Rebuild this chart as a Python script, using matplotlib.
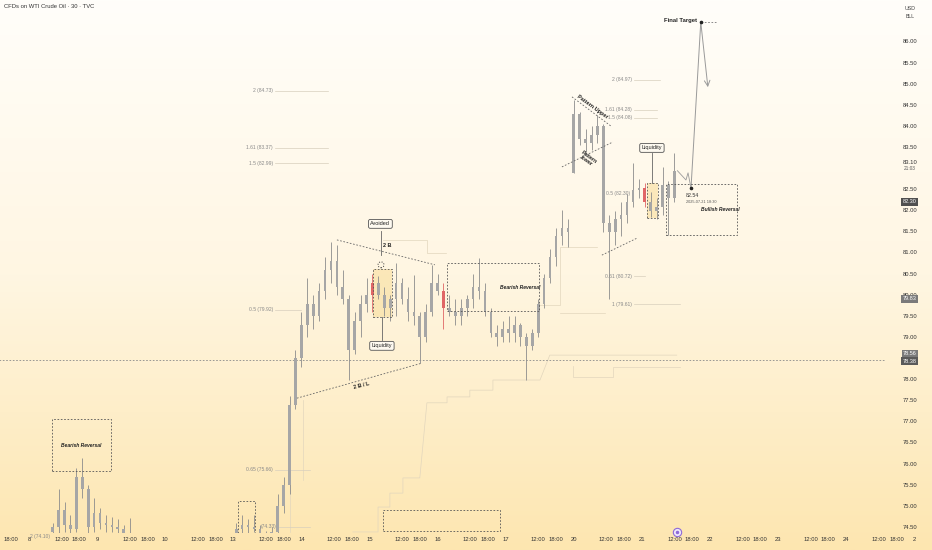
import numpy as np
import matplotlib.pyplot as plt
from matplotlib.colors import LinearSegmentedColormap
from matplotlib.patches import Rectangle, Ellipse

plt.rcParams['font.family'] = ['Liberation Sans', 'DejaVu Sans']

# ---- data (hours counted in 23h trading sessions from the Jul 8 session open) ----
bar_hours = np.r_[8:36:2, 70:220:2]

opens = [74.40, 74.50, 74.90, 74.55, 74.45, 75.70, 75.40, 74.50, 74.85, 74.60,
         74.55, 74.50, 74.45, 74.35,
         74.30, 74.45, 74.55, 74.50, 74.45, 74.35, 74.30, 74.40, 75.00, 75.50,
         77.40, 78.50, 79.30, 79.80, 79.50, 80.10, 80.60, 80.80, 80.20, 79.90,
         78.70, 79.40, 79.80, 80.00, 80.30, 80.00, 79.70, 79.90, 80.30, 79.90,
         79.60, 79.50, 79.00, 79.60, 80.30, 80.10, 79.70, 79.60, 79.50, 79.70,
         79.90, 80.20, 80.10, 79.60, 79.10, 79.00, 79.20, 79.10, 79.30, 79.00,
         78.80, 79.10, 79.80, 80.40, 80.90, 81.40, 81.60, 82.90, 84.30, 83.70,
         83.60, 83.80, 84.00, 81.70, 81.50, 81.80, 81.90, 82.20, 82.50, 82.55,
         82.20, 82.00, 82.10, 82.60, 82.30]
highs = [74.60, 75.40, 75.10, 74.80, 75.90, 76.14, 75.50, 75.20, 74.95, 74.80,
         74.75, 74.70, 74.55, 74.72,
         74.60, 74.80, 74.70, 74.80, 74.55, 74.42, 74.50, 75.30, 75.70, 77.60,
         78.70, 79.60, 80.40, 80.00, 80.30, 80.90, 81.25, 81.20, 80.60, 80.00,
         79.60, 80.00, 80.40, 80.50, 80.45, 80.20, 80.00, 80.76, 80.40, 80.20,
         80.48, 79.60, 79.80, 80.72, 80.50, 80.30, 80.00, 79.90, 79.90, 80.00,
         80.50, 80.88, 80.30, 79.70, 79.30, 79.40, 79.50, 79.50, 79.35, 79.10,
         79.20, 79.90, 80.50, 81.10, 81.60, 82.02, 81.80, 84.63, 84.35, 83.95,
         84.00, 84.27, 84.05, 81.90, 82.00, 82.20, 82.40, 83.13, 82.75, 82.66,
         82.45, 82.30, 83.04, 82.70, 83.37]
lows = [74.30, 74.35, 74.40, 74.35, 74.40, 75.20, 74.35, 74.40, 74.45, 74.40,
        74.40, 74.35, 74.30, 74.20,
        74.20, 74.35, 74.35, 74.40, 74.30, 74.25, 74.25, 74.35, 74.85, 75.30,
        77.30, 78.30, 79.00, 79.20, 79.40, 79.90, 80.30, 80.00, 79.80, 78.00,
        78.60, 79.00, 79.60, 79.60, 79.90, 79.50, 79.40, 79.50, 79.80, 79.40,
        79.30, 78.40, 78.90, 79.50, 80.00, 79.20, 79.50, 79.30, 79.30, 79.50,
        79.70, 79.90, 79.50, 79.00, 78.80, 78.90, 78.90, 78.90, 78.80, 77.99,
        78.70, 79.00, 79.70, 80.30, 80.70, 81.20, 81.14, 82.90, 83.55, 83.40,
        83.45, 83.60, 81.50, 79.90, 81.20, 81.40, 81.70, 82.10, 82.30, 82.10,
        81.85, 81.80, 81.90, 81.43, 82.20]
closes = [74.50, 74.90, 74.55, 74.45, 75.70, 75.40, 74.50, 74.85, 74.60, 74.55,
          74.50, 74.45, 74.35, 74.30,
          74.45, 74.55, 74.50, 74.45, 74.35, 74.30, 74.40, 75.00, 75.50, 77.40,
          78.50, 79.30, 79.80, 79.50, 80.10, 80.60, 80.80, 80.20, 79.90, 78.70,
          79.40, 79.80, 80.00, 80.30, 80.00, 79.70, 79.90, 80.30, 79.90, 79.60,
          79.50, 79.00, 79.60, 80.30, 80.10, 79.70, 79.60, 79.50, 79.70, 79.90,
          80.20, 80.10, 79.60, 79.10, 79.00, 79.20, 79.10, 79.30, 79.00, 78.80,
          79.10, 79.80, 80.40, 80.90, 81.40, 81.60, 81.50, 84.30, 83.70, 83.60,
          83.80, 84.00, 81.70, 81.50, 81.80, 81.90, 82.20, 82.50, 82.55, 82.20,
          82.00, 82.10, 82.60, 82.30, 82.95]
marked_hours = [116, 140, 208]

# projection path and target
proj_hours = [219, 221.9, 222.6, 223.6]
proj_prices = [82.95, 82.73, 82.90, 82.54]
target_hour, target_price = 226.9, 86.47
arrow_end_hour, arrow_end_price = 229.3, 84.93

day_labels = ['8', '9', '10', '13', '14', '15', '16', '17', '20', '21', '22', '23', '24', '2']
price_ticks = [86.0, 85.5, 85.0, 84.5, 84.0, 83.5, 82.5, 82.0, 81.5, 81.0, 80.5,
               80.0, 79.5, 79.0, 78.0, 77.5, 77.0, 76.5, 76.0, 75.5, 75.0, 74.5]

# fib levels: (label, price of label, right edge hour of label, line end hour)
fib_left = [('2 (84.73)', 84.84, 82.4, 101.0), ('1.61 (83.37)', 83.49, 82.4, 101.0),
            ('1.5 (82.99)', 83.13, 82.4, 101.0), ('0.5 (79.92)', 79.65, 82.4, 92.0),
            ('0.65 (75.66)', 75.86, 82.4, 95.0), ('(74.33)', 74.51, 83.7, 95.0),
            ('2 (74.10)', 74.29, 7.1, 7.1)]
fib_right = [('2 (84.97)', 85.10, 203.6, 213.0), ('1.61 (84.28)', 84.39, 203.6, 212.0),
             ('1.5 (84.08)', 84.20, 203.6, 212.0), ('0.5 (82.30)', 82.42, 203.0, 203.0),
             ('0.61 (80.72)', 80.45, 203.6, 208.0), ('1 (79.61)', 79.79, 203.6, 219.9)]

# ---- figure ----
fig = plt.figure(figsize=(9.32, 5.5), dpi=100)
bg = fig.add_axes([0, 0, 1, 1], zorder=-1)
cmap = LinearSegmentedColormap.from_list('bg', ['#fffefa', '#fff6e2', '#fde6b0'])
bg.imshow(np.linspace(0, 1, 256).reshape(-1, 1), aspect='auto', cmap=cmap,
          extent=[0, 1, 0, 1])
bg.axis('off')

ax = fig.add_axes([0, 17 / 550, 1, 533 / 550])
ax.patch.set_alpha(0)
ax.set_xlim(-9.79, 305.0)
ax.set_ylim(74.365, 86.995)
for s in ax.spines.values():
    s.set_visible(False)

# candles
for t, o, h, l, c in zip(bar_hours, opens, highs, lows, closes):
    col = '#e06666' if t in marked_hours else '#8c8c8c'
    ax.vlines(t, l, h, color=col, lw=0.6, zorder=3)
    ax.bar(t, max(abs(c - o), 0.03), bottom=min(o, c), width=0.9,
           color='#e06666' if t in marked_hours else '#a6a6a6', lw=0, zorder=3)

# faint step lines
faint = '#e2d6bd'
ax.plot([109.4, 117.9, 117.9, 121.9, 121.9, 126.3, 126.3, 132.0, 134.4, 134.4, 141.2, 141.2,
         148.9, 148.9, 156.7, 156.7, 172.6, 175.9, 218.8],
        [74.39, 74.39, 74.98, 74.98, 75.31, 75.31, 75.67, 75.67, 77.45, 77.45, 77.45, 77.59,
         77.59, 77.75, 77.75, 77.99, 77.99, 78.58, 78.58], color=faint, lw=0.5, zorder=1)
ax.plot([183.7, 183.7, 197.2, 197.2, 220], [78.33, 78.06, 78.06, 78.30, 78.30],
        color=faint, lw=0.5, zorder=1)
ax.plot([119.6, 134.4, 134.4, 141.0], [81.31, 81.31, 81.0, 81.0], color=faint, lw=0.5, zorder=1)
ax.plot([171.6, 179.3, 179.3, 191.8], [79.77, 79.77, 81.14, 81.14], color=faint, lw=0.5, zorder=1)
ax.plot([179.3, 194.5], [79.58, 79.58], color=faint, lw=0.5, zorder=1)
ax.plot([92.5, 92.5], [77.52, 75.62], color=faint, lw=0.5, zorder=1)
ax.plot([88.0, 88.0], [77.4, 74.4], color=faint, lw=0.5, zorder=1)

# fib labels
for lab, p, xr, xe in fib_left + fib_right:
    ax.text(xr, p, lab, ha='right', va='center', fontsize=3.6, color='#8a8a8a', zorder=4)
    if xe > xr + 1:
        ax.plot([xr + 0.8, xe], [p, p], color='#d8cfbd', lw=0.5, zorder=1)

# horizontal dotted level
ax.hlines(78.47, -10, 289, colors='#8a8a8a', linestyles=(0, (2, 2)), lw=0.6, zorder=2)

dash = dict(fill=False, ec='#555555', lw=0.6, ls=(0, (2, 2)), zorder=5)
# bearish reversal boxes
ax.add_patch(Rectangle((7.77, 75.83), 19.9, 1.24, **dash))
ax.text(17.6, 76.43, 'Bearish Reversal', ha='center', va='center', fontsize=3.6,
        style='italic', weight='bold', color='#222')
ax.add_patch(Rectangle((141.2, 79.63), 31.0, 1.13, **dash))
ax.text(165.8, 80.19, 'Bearish Reversal', ha='center', va='center', fontsize=3.6,
        style='italic', weight='bold', color='#222')
ax.add_patch(Rectangle((70.6, 74.2), 5.7, 0.92, **dash))
ax.add_patch(Rectangle((119.6, 74.41), 39.5, 0.5, **dash))

# bullish reversal box
ax.add_patch(Rectangle((215.1, 81.43), 24.0, 1.21, **dash))
ax.text(233.4, 82.02, 'Bullish Reversal', ha='center', va='center', fontsize=3.6,
        style='italic', weight='bold', color='#222')

# liquidity boxes
for x0, y0, w, hgt in [(116.2, 79.48, 6.4, 1.14), (208.7, 81.83, 3.7, 0.83)]:
    ax.add_patch(Rectangle((x0, y0), w, hgt, fc='#f8dc96', alpha=0.55, ec='none', zorder=2))
    ax.add_patch(Rectangle((x0, y0), w, hgt, **dash))

lbl = dict(boxstyle='round,pad=0.35,rounding_size=0.3', fc='#fdf9f0', ec='#555555', lw=0.6)
ax.text(118.7, 81.69, 'Avoided', ha='center', va='center', fontsize=4, color='#222', bbox=lbl, zorder=6)
ax.plot([118.9, 118.9], [81.52, 80.95], color='#666', lw=0.6, zorder=5)
ax.text(120.9, 81.17, '2 B', ha='center', va='center', fontsize=4, weight='bold', color='#222')
ax.add_patch(Ellipse((118.9, 80.72), 2.0, 0.14, fill=False, ec='#333', lw=0.7, ls=':', zorder=6))
ax.text(119.2, 78.80, 'Liquidity', ha='center', va='center', fontsize=4, color='#222', bbox=lbl, zorder=6)
ax.plot([119.2, 119.2], [79.48, 78.93], color='#666', lw=0.6, zorder=5)
ax.text(210.4, 83.49, 'Liquidity', ha='center', va='center', fontsize=4, color='#222', bbox=lbl, zorder=6)
ax.plot([210.4, 210.4], [83.36, 82.66], color='#666', lw=0.6, zorder=5)

# trend lines
tl = dict(color='#666666', lw=0.6, ls=(0, (2, 2)), zorder=4)
ax.plot([104.0, 137.1], [81.31, 80.72], **tl)
ax.plot([90.5, 132.7], [77.56, 78.39], **tl)
ax.text(112.5, 77.86, '2 B / L', ha='center', va='center', fontsize=4, weight='bold',
        color='#222', rotation=14)
ax.plot([183.4, 196.9], [84.70, 83.99], **tl)
ax.plot([180.0, 197.2], [83.04, 83.63], **tl)
ax.plot([193.5, 205.6], [80.95, 81.36], **tl)
ax.text(190.3, 84.46, 'Pattern Upper', ha='center', va='center', fontsize=4, weight='bold',
        color='#222', rotation=-36)
ax.text(188.8, 83.22, 'Pattern\nlower', ha='center', va='center', fontsize=3.8, weight='bold',
        color='#222', rotation=-36, linespacing=0.9)

# projection
ax.plot(proj_hours, proj_prices, color='#9a9a9a', lw=0.6, zorder=4)
ax.plot([proj_hours[-1], target_hour], [proj_prices[-1], target_price], color='#9a9a9a', lw=0.7, zorder=4)
ax.annotate('', xy=(arrow_end_hour, arrow_end_price), xytext=(target_hour, target_price),
            arrowprops=dict(arrowstyle='->', color='#9a9a9a', lw=0.7, shrinkA=0, shrinkB=0))
ax.plot([target_hour, 232.5], [target_price, target_price], color='#777', lw=0.6, ls=(0, (2, 2)))
ax.plot([target_hour, proj_hours[-1]], [target_price, proj_prices[-1]], 'o', color='#222', ms=1.6, zorder=6)
ax.text(225.6, 86.50, 'Final Target', ha='right', va='center', fontsize=4.2, weight='bold', color='#222')
ax.text(221.9, 82.37, '82.54', ha='left', va='center', fontsize=3.8, color='#333')
ax.text(221.9, 82.22, '2025-07-21 18:30', ha='left', va='center', fontsize=2.8, color='#555')

# purple event icon
ax.plot(218.8, 74.40, 'o', ms=6, mfc='#efe8fb', mec='#8e6ad8', mew=0.8, clip_on=False, zorder=7)
ax.plot(218.8, 74.40, 'o', ms=1.5, color='#8e6ad8', clip_on=False, zorder=8)

# time axis
ticks, labels = [-6], ['18:00']
for k, d in enumerate(day_labels):
    ticks += [23 * k, 23 * k + 11, 23 * k + 17]
    labels += [d, '12:00', '18:00']
ticks, labels = ticks[:-2], labels[:-2]
ax.set_xticks(ticks, labels)
ax.tick_params(axis='x', length=0, pad=3, labelsize=4.2, labelcolor='#333')
ax.set_yticks([])

# price scale
xp = 297.5
for p in price_ticks:
    ax.text(xp, p, f'{p:.2f}', ha='center', va='center', fontsize=4.2, color='#333')
ax.text(xp, 83.15, '83.10', ha='center', va='center', fontsize=4.2, color='#333')
ax.text(xp, 83.00, '21:03', ha='center', va='center', fontsize=3.4, color='#555')
for p, txt, fc in [(82.21, '82.30', '#505050'), (79.91, '79.83', '#7a7a7a'),
                   (78.61, '78.56', '#7a7a7a'), (78.44, '78.38', '#5a5a5a')]:
    ax.text(xp, p, txt, ha='center', va='center', fontsize=4.0, color='white',
            bbox=dict(boxstyle='square,pad=0.25', fc=fc, ec='none'), zorder=7)

fig.text(910 / 932, 1 - 8 / 550, 'USD', ha='center', va='center', fontsize=3.8, color='#444')
fig.text(910 / 932, 1 - 17 / 550, 'BLL', ha='center', va='center', fontsize=3.8, color='#444')
fig.text(4 / 932, 1 - 6 / 550, 'CFDs on WTI Crude Oil · 30 · TVC', ha='left', va='center',
         fontsize=4.2, color='#333')

fig.savefig('out.png', dpi=100)
